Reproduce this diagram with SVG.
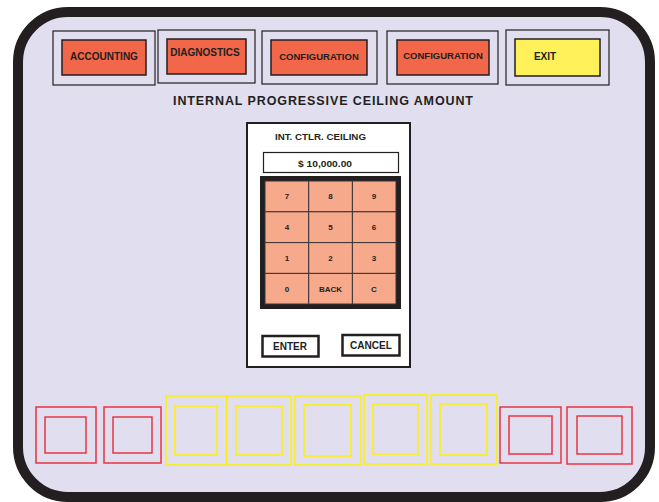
<svg xmlns="http://www.w3.org/2000/svg" width="659" height="502" viewBox="0 0 659 502">
<style>
text{font-family:"Liberation Sans",Arial,sans-serif;font-weight:bold;fill:#231F20}
.obox{fill:none;stroke:#231F20;stroke-width:1.2}
.rbtn{fill:#F26649;stroke:#231F20;stroke-width:1.5}
.ybtn{fill:#FFF15A;stroke:#231F20;stroke-width:1.5}
.bt{font-size:10px;text-anchor:middle}
.key{fill:#F7A98C;stroke:#3a3536;stroke-width:1}
.kt{font-size:8px;text-anchor:middle}
.red{fill:none;stroke:#E81E2A;stroke-width:1.3}
.redo{fill:none;stroke:#EA3D4B;stroke-width:1.6}
.yel{fill:none;stroke:#FFF200;stroke-width:1.5}
</style>
<rect x="0" y="0" width="659" height="502" fill="#ffffff"/>
<rect id="frame" x="18" y="12" width="632" height="485" rx="50" ry="50" fill="#E0DEEF" stroke="#231F20" stroke-width="10"/>

<g id="btn-accounting">
<rect class="obox" x="53" y="31" width="102" height="54"/>
<rect class="rbtn" x="62" y="40" width="84" height="35"/>
<text class="bt" x="104" y="60">ACCOUNTING</text>
</g>
<g id="btn-diagnostics">
<rect class="obox" x="158" y="30" width="97" height="53"/>
<rect class="rbtn" x="167" y="39" width="79" height="35"/>
<text class="bt" x="205" y="56">DIAGNOSTICS</text>
</g>
<g id="btn-configuration-1">
<rect class="obox" x="262" y="31" width="115" height="53"/>
<rect class="rbtn" x="271" y="40" width="96" height="35"/>
<text class="bt" x="319" y="60" style="font-size:9.5px">CONFIGURATION</text>
</g>
<g id="btn-configuration-2">
<rect class="obox" x="387" y="31" width="111" height="53"/>
<rect class="rbtn" x="397" y="40" width="92" height="35"/>
<text class="bt" x="443" y="59" style="font-size:9.5px">CONFIGURATION</text>
</g>
<g id="btn-exit">
<rect class="obox" x="506" y="30" width="103" height="55"/>
<rect class="ybtn" x="515" y="39" width="85" height="37"/>
<text class="bt" x="545" y="60">EXIT</text>
</g>

<text id="title" x="323" y="105" text-anchor="middle" style="font-size:12.5px" textLength="300" lengthAdjust="spacing">INTERNAL PROGRESSIVE CEILING AMOUNT</text>

<g id="dialog">
<rect x="247" y="123" width="163" height="244" fill="#ffffff" stroke="#231F20" stroke-width="2"/>
<text x="275" y="139.5" style="font-size:9.5px" textLength="91" lengthAdjust="spacingAndGlyphs">INT. CTLR. CEILING</text>
<rect x="263.5" y="152.5" width="135" height="20" fill="#ffffff" stroke="#231F20" stroke-width="1.2"/>
<text x="325" y="166.5" text-anchor="middle" style="font-size:9.5px" textLength="54" lengthAdjust="spacingAndGlyphs">$ 10,000.00</text>
</g>

<g id="keypad">
<rect x="262.5" y="178.5" width="136" height="128" fill="#231F20" stroke="#231F20" stroke-width="5"/>
<rect class="key" x="265" y="181" width="43.7" height="30.8"/>
<rect class="key" x="308.7" y="181" width="43.7" height="30.8"/>
<rect class="key" x="352.4" y="181" width="43.6" height="30.8"/>
<rect class="key" x="265" y="211.8" width="43.7" height="30.8"/>
<rect class="key" x="308.7" y="211.8" width="43.7" height="30.8"/>
<rect class="key" x="352.4" y="211.8" width="43.6" height="30.8"/>
<rect class="key" x="265" y="242.6" width="43.7" height="30.8"/>
<rect class="key" x="308.7" y="242.6" width="43.7" height="30.8"/>
<rect class="key" x="352.4" y="242.6" width="43.6" height="30.8"/>
<rect class="key" x="265" y="273.4" width="43.7" height="30.6"/>
<rect class="key" x="308.7" y="273.4" width="43.7" height="30.6"/>
<rect class="key" x="352.4" y="273.4" width="43.6" height="30.6"/>
<text class="kt" x="287" y="199">7</text>
<text class="kt" x="330.5" y="199">8</text>
<text class="kt" x="374" y="199">9</text>
<text class="kt" x="287" y="230">4</text>
<text class="kt" x="330.5" y="230">5</text>
<text class="kt" x="374" y="230">6</text>
<text class="kt" x="287" y="261">1</text>
<text class="kt" x="330.5" y="261">2</text>
<text class="kt" x="374" y="261">3</text>
<text class="kt" x="287" y="292">0</text>
<text class="kt" x="330.5" y="292">BACK</text>
<text class="kt" x="374" y="292">C</text>
</g>

<g id="btn-enter">
<rect x="262.5" y="336" width="56" height="20.5" fill="#ffffff" stroke="#231F20" stroke-width="2.5"/>
<text x="290" y="349.5" text-anchor="middle" style="font-size:10px" textLength="34" lengthAdjust="spacingAndGlyphs">ENTER</text>
</g>
<g id="btn-cancel">
<rect x="342.5" y="335" width="57" height="20.5" fill="#ffffff" stroke="#231F20" stroke-width="2.5"/>
<text x="371" y="348.5" text-anchor="middle" style="font-size:10px" textLength="42" lengthAdjust="spacingAndGlyphs">CANCEL</text>
</g>

<g id="slot-1"><rect class="redo" x="36" y="407" width="60" height="56"/><rect class="red" x="45" y="417" width="41" height="36"/></g>
<g id="slot-2"><rect class="redo" x="104" y="407" width="57" height="56"/><rect class="red" x="113" y="417" width="39" height="36"/></g>
<g id="slot-3"><rect class="yel" x="166" y="396" width="60" height="69"/><rect class="yel" x="175" y="406" width="42" height="49"/></g>
<g id="slot-4"><rect class="yel" x="227" y="396" width="64" height="69"/><rect class="yel" x="236" y="406" width="46" height="49"/></g>
<g id="slot-5"><rect class="yel" x="295" y="396" width="66" height="69"/><rect class="yel" x="304" y="405" width="47" height="51"/></g>
<g id="slot-6"><rect class="yel" x="364" y="395" width="63" height="69"/><rect class="yel" x="373" y="404" width="45" height="50"/></g>
<g id="slot-7"><rect class="yel" x="431" y="395" width="66" height="69"/><rect class="yel" x="440" y="404" width="47" height="51"/></g>
<g id="slot-8"><rect class="red" x="500" y="407" width="61" height="56"/><rect class="redo" x="509" y="416" width="43" height="38"/></g>
<g id="slot-9"><rect class="redo" x="567" y="407" width="65" height="57"/><rect class="red" x="577" y="416" width="45" height="38"/></g>
</svg>
